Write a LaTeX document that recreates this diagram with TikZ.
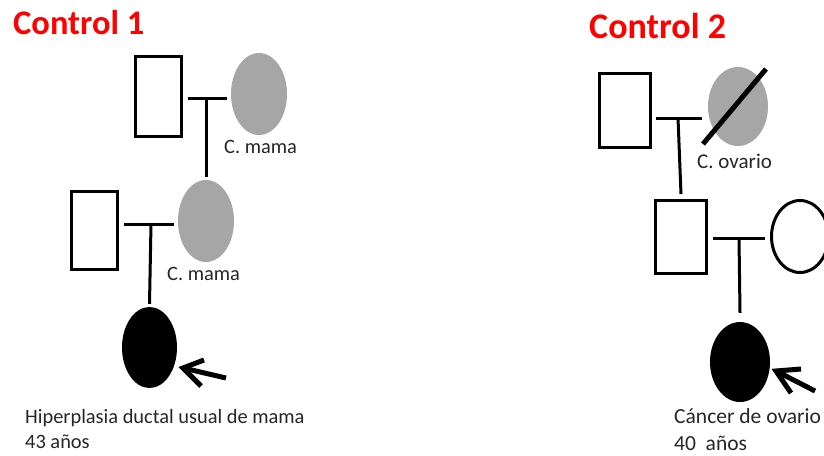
\documentclass[tikz,border=0pt]{standalone}
\usepackage{fontspec}
\setmainfont{Carlito}
\usetikzlibrary{shapes.geometric}
\definecolor{affgray}{HTML}{A6A6A6}
\definecolor{ctrlred}{HTML}{FF0000}
\definecolor{txt}{HTML}{262626}
\begin{document}
\begin{tikzpicture}[x=1pt,y=-1pt,
  male/.style={draw,line width=3pt,rectangle,inner sep=0pt},
  fem/.style={ellipse,inner sep=0pt},
  link/.style={line width=3pt},
  slashline/.style={line width=5pt},
  pointer/.style={line width=5pt},
  lbl/.style={anchor=base west,inner sep=0pt,text=txt,font=\fontsize{20.4}{24}\selectfont},
  title/.style={anchor=base west,inner sep=0pt,text=ctrlred,font=\bfseries}]
\useasboundingbox (0,0) rectangle (824,455);
\clip (0,0) rectangle (824,455);
\fill[white] (0,0) rectangle (824,455);
% ---------------- Control 1 ----------------
\node[title,font=\bfseries\fontsize{34.5}{40}\selectfont] (t1) at (13,34) {Control 1};
\node[male,minimum width=46pt,minimum height=80pt] (r1) at (158.5,96.5) {};
\node[fem,fill=affgray,minimum width=56pt,minimum height=82pt] (e1) at (259,94) {};
\coordinate (m1) at (206,98);
\draw[link] ([xshift=5pt]r1.east |- m1) -- ([xshift=-4pt]e1.west |- m1);
\node[fem,fill=affgray,minimum width=56pt,minimum height=82pt] (e2) at (206,221) {};
\draw[link] (m1) -- ([yshift=3pt]e2.north);
\node[lbl] (l1) at (224,153) {C. mama};
\node[male,minimum width=46pt,minimum height=78pt] (r2) at (94.5,230.5) {};
\coordinate (m2) at (151,224);
\draw[link] ([xshift=5pt]r2.east |- m2) -- ([xshift=-4pt]e2.west |- m2);
\node[fem,fill=black,minimum width=55pt,minimum height=81pt] (e3) at (149.5,347.5) {};
\draw[link] (m2) -- ([yshift=3pt]e3.north);
\node[lbl] (l2) at (167,280) {C. mama};
\coordinate (a1tip) at (183,368);
\coordinate (a1tail) at (226,378);
\coordinate (a1u) at (204,360);
\coordinate (a1d) at (201,386);
\draw[pointer] (a1tail) -- (a1tip);
\draw[pointer,line join=miter] (a1u) -- (a1tip) -- (a1d);
\node[lbl] (d1) at (25,423) {Hiperplasia ductal usual de mama};
\node[lbl] (d1b) at (25,448) {43 años};
% ---------------- Control 2 ----------------
\node[title,font=\bfseries\fontsize{36}{42}\selectfont] (t2) at (589,38) {Control 2};
\node[male,minimum width=51pt,minimum height=74pt] (r3) at (625,110.5) {};
\node[fem,fill=affgray,minimum width=60pt,minimum height=79pt] (e4) at (738,106.5) {};
\coordinate (s1) at (703,144);
\coordinate (s2) at (766,69);
\draw[slashline] (s1) -- (s2);
\coordinate (m3) at (678,118);
\draw[link] ([xshift=4pt]r3.east |- m3) -- ([xshift=-6pt]e4.west |- m3);
\node[male,minimum width=51pt,minimum height=73pt] (r4) at (681,237) {};
\draw[link] (m3) -- ([yshift=5pt]r4.north);
\node[lbl,font=\fontsize{21}{24}\selectfont] (l3) at (697,168) {C. ovario};
\node[fem,draw,line width=3pt,minimum width=57pt,minimum height=72pt] (e5) at (800,236.5) {};
\coordinate (m4) at (739,238);
\draw[link] ([xshift=5pt]r4.east |- m4) -- ([xshift=-5pt]e5.west |- m4);
\node[fem,fill=black,minimum width=60pt,minimum height=80pt] (e6) at (740,362) {};
\draw[link] (m4) -- ([yshift=9pt]e6.north);
\coordinate (a2tip) at (776,371);
\coordinate (a2tail) at (815,391);
\coordinate (a2u) at (801,369);
\coordinate (a2d) at (791,393);
\draw[pointer] (a2tail) -- (a2tip);
\draw[pointer,line join=miter] (a2u) -- (a2tip) -- (a2d);
\node[lbl,font=\fontsize{21.5}{24}\selectfont] (d2) at (674,423) {Cáncer de ovario};
\node[lbl,font=\fontsize{21.5}{24}\selectfont] (d2b) at (674,450) {40\ \ años};
\end{tikzpicture}
\end{document}
